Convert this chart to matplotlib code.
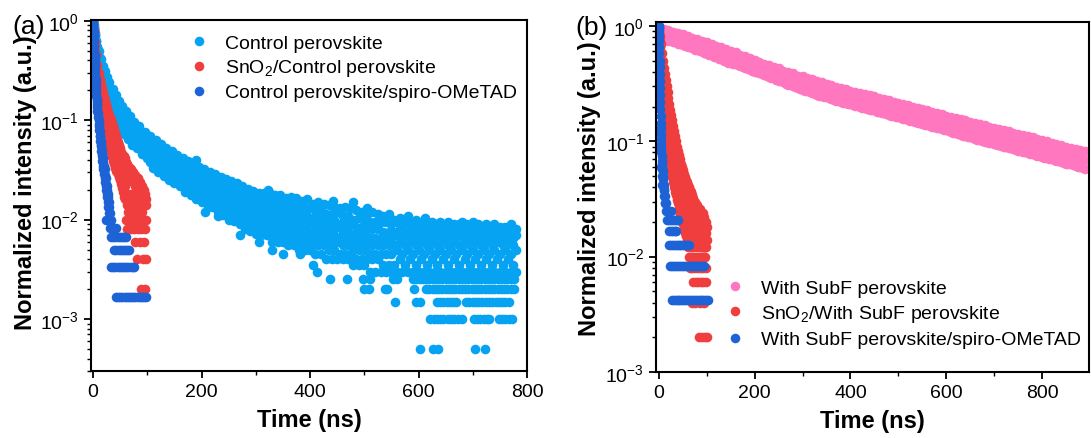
import matplotlib
matplotlib.use("Agg")
import matplotlib.pyplot as plt
from matplotlib.lines import Line2D
from matplotlib.ticker import LogLocator, MultipleLocator, NullFormatter

plt.rcParams['font.family'] = ['Liberation Sans', 'DejaVu Sans']
plt.rcParams['mathtext.fontset'] = 'custom'
plt.rcParams['mathtext.rm'] = 'Liberation Sans'
plt.rcParams['mathtext.it'] = 'Liberation Sans:italic'
plt.rcParams['mathtext.bf'] = 'Liberation Sans:bold'

labels_a = ["Control perovskite", "SnO$_2$/Control perovskite",
            "Control perovskite/spiro-OMeTAD"]
labels_b = ["With SubF perovskite", "SnO$_2$/With SubF perovskite",
            "With SubF perovskite/spiro-OMeTAD"]

# ================= Panel (a) =================
# Control perovskite (light blue): four readings per time channel
lb_t = [0, 1, 2, 3, 4, 5, 6, 7, 8, 9, 10, 12, 14, 16, 18, 20, 22, 24, 26, 28, 30,
        33, 36, 39, 42, 45, 48, 51, 54, 57, 60, 64, 68, 72, 76, 80, 85, 90, 95, 100,
        105, 110, 115, 120, 125, 130, 135, 140, 145, 150,
        155, 160, 165, 170, 175, 180, 185, 190, 195, 200,
        205, 210, 215, 220, 225, 230, 235, 240, 245, 250,
        255, 260, 265, 270, 275, 280, 285, 290, 295, 300,
        305, 310, 315, 320, 325, 330, 335, 340, 345, 350,
        355, 360, 365, 370, 375, 380, 385, 390, 395, 400,
        405, 410, 415, 420, 425, 430, 435, 440, 445, 450,
        455, 460, 465, 470, 475, 480, 485, 490, 495, 500,
        505, 510, 515, 520, 525, 530, 535, 540, 545, 550,
        555, 560, 565, 570, 575, 580, 585, 590, 595, 600,
        605, 610, 615, 620, 625, 630, 635, 640, 645, 650,
        655, 660, 665, 670, 675, 680, 685, 690, 695, 700,
        705, 710, 715, 720, 725, 730, 735, 740, 745, 750,
        755, 760, 765, 770, 775, 780]
lb_1 = [1.0, .910, .85, .751, .72, .629, .62, .548, .55, .487, .5, .418, .41, .351,
        .35, .307, .31, .269, .27, .236, .24, .203, .205, .175, .178, .153, .157,
        .136, .14, .121, .125, .108, .11, .095, .097, .085, .087, .075, .077, .067,
        .070, .0597, .063, .0543, .058, .0498, .053, .0462, .049, .0425,
        .045, .0398, .042, .0367, .039, .034, .037, .0313, .034, .0295,
        .032, .0277, .030, .026, .0285, .0248, .027, .023, .0255, .0219,
        .0245, .021, .0232, .0197, .022, .0183, .0205, .0174, .0195, .0165,
        .0185, .016, .0185, .016, .019, .015, .0175, .015, .0175, .0155,
        .0165, .014, .017, .014, .0165, .013, .0155, .013, .016, .013,
        .0145, .0125, .015, .0125, .0145, .0115, .014, .0115, .0135, .012,
        .013, .011, .0135, .011, .013, .01, .0125, .0105, .012, .01,
        .0115, .0095, .012, .0095, .0115, .0095, .011, .0095, .0115, .009,
        .01, .0095, .0105, .009, .01, .0095, .0095, .0085, .01, .009,
        .0095, .0085, .0095, .009, .0095, .0085, .009, .0095, .0085, .009,
        .0095, .0085, .009, .0085, .009, .0095, .0085, .009, .008, .009,
        .0085, .009, .008, .0085, .009, .008, .0085, .009, .008, .0085,
        .008, .0085, .008, .0085, .0075, .008]
lb_2 = [.985, .872, .797, .697, .66, .571, .558, .489, .487, .428, .436, .362, .352,
        .300, .298, .266, .268, .231, .232, .202, .206, .173, .174, .148, .151, .129,
        .132, .115, .118, .102, .106, .091, .093, .08, .082, .072, .074, .064, .066,
        .058,
        .0573, .0489, .0516, .0445, .0475, .0408, .0434, .0378, .0401, .0348,
        .0369, .0326, .0344, .0294, .0312, .0272, .0296, .0251, .0272, .0237,
        .0256, .0222, .024, .0208, .0228, .0195, .0212, .0181, .02, .0169,
        .0188, .0162, .0178, .0152, .0167, .0139, .0156, .0132, .0148, .0126,
        .014, .012, .014, .012, .014, .011, .013, .011, .013, .011,
        .012, .0105, .012, .0105, .012, .0095, .011, .0095, .011, .0095,
        .0105, .009, .0105, .009, .0105, .0085, .01, .0085, .01, .0085,
        .009, .0075, .009, .0075, .009, .007, .0085, .007, .0085, .007,
        .008, .0065, .008, .0065, .008, .0065, .0075, .0065, .0075, .0065,
        .0075, .007, .008, .0065, .0075, .007, .008, .0065, .0075, .007,
        .008, .0065, .0075, .007, .008, .0065, .0075, .007, .008, .0065,
        .0075, .007, .0075, .0065, .007, .0075, .0065, .007, .0075, .0065,
        .007, .0075, .0065, .007, .0075, .0065, .007, .0075, .0065, .007,
        .0075, .0065, .007, .0075, .0065, .007]
lb_3 = [.971, .835, .748, .647, .604, .518, .503, .437, .432, .376, .380, .313, .302,
        .257, .254, .231, .231, .198, .199, .173, .176, .148, .147, .125, .127, .109,
        .112, .097, .099, .086, .09, .077, .079, .067, .069, .061, .063, .054, .056,
        .049,
        .047, .0401, .0423, .0364, .0389, .0334, .0356, .031, .0329, .0285,
        .0302, .0267, .0282, .0235, .025, .0218, .0238, .0201, .0218, .0189,
        .0205, .0178, .0193, .0166, .0183, .0153, .0167, .0142, .0157, .013,
        .0145, .0125, .0137, .0117, .0127, .0105, .0118, .01, .0112, .0095,
        .0105, .009, .0105, .009, .0105, .008, .0095, .008, .0095, .008,
        .009, .0075, .009, .0075, .009, .007, .008, .007, .008, .007,
        .0075, .0065, .0075, .0065, .0075, .006, .007, .006, .007, .006,
        .0065, .0055, .0065, .0055, .0065, .005, .006, .005, .006, .005,
        .0055, .0045, .0055, .0045, .0055, .0045, .0055, .0045, .0055, .0045,
        .0055, .005, .006, .0045, .0055, .005, .006, .0045, .0055, .005,
        .006, .0045, .0055, .005, .006, .0045, .0055, .005, .006, .0045,
        .0055, .005, .006, .0045, .0055, .005, .006, .0045, .0055, .005,
        .006, .0045, .0055, .005, .006, .0045, .0055, .005, .006, .0045,
        .0055, .005, .006, .0045, .0055, .005]
lb_4 = [.957, .80, .702, .60, .554, .47, .453, .39, .383, .33, .332, .27, .259, .22,
        .217, .2, .199, .17, .171, .148, .151, .126, .125, .106, .108, .092, .095,
        .082, .084, .073, .076, .065, .067, .057, .059, .052, .053, .046, .048, .042,
        .0384, .0328, .0346, .0298, .0318, .0273, .0291, .0253, .0269, .0234,
        .0247, .0219, .0231, .0189, .020, .0175, .019, .0161, .0175, .0152,
        .0164, .0143, .0154, .0133, .0146, .012, .0131, .0112, .0124, .010,
        .0111, .0096, .0106, .009, .0096, .008, .009, .0076, .0085, .0072,
        .008, .007, .008, .007, .008, .006, .007, .006, .007, .006,
        .0065, .0055, .0065, .0055, .0065, .005, .006, .005, .006, .005,
        .0055, .0045, .0055, .0045, .0055, .004, .005, .004, .005, .004,
        .0045, .004, .0045, .004, .0045, .0035, .004, .0035, .004, .0035,
        .004, .003, .004, .003, .004, .003, .0035, .003, .0035, .003,
        .0035, .003, .004, .003, .0035, .003, .004, .003, .0035, .003,
        .004, .003, .0035, .003, .004, .003, .0035, .003, .004, .003,
        .0035, .003, .004, .003, .0035, .003, .004, .003, .0035, .003,
        .004, .003, .0035, .003, .004, .003, .0035, .003, .004, .003,
        .0035, .003, .004, .003, .0035, .003]
# isolated dots above / below the band
lb_out_t = [190, 323, 443, 479, 505, 581, 612, 700, 771,
            206, 231, 271, 305, 330, 351, 381, 406, 412,
            437, 468, 498, 510, 553, 560]
lb_out_v = [0.04, 0.02, 0.0155, 0.015, 0.013, 0.011, 0.0105, 0.0095, 0.009,
            0.012, 0.011, 0.007, 0.006, 0.005, 0.0045, 0.0045, 0.0035, 0.003,
            0.0025, 0.0025, 0.0025, 0.0025, 0.0025, 0.0025]
# quantised low-count rows of the tail
lb_tail_levels = [0.0025, 0.002, 0.0015, 0.001, 0.0005]
lb_tail_times = [
    [590, 596, 602, 608, 614, 620, 626, 632, 638, 644, 650, 656, 662, 668, 674, 680,
     686, 692, 698, 704, 710, 716, 722, 728, 734, 740, 746, 752, 758, 764, 770, 776],
    [500, 508, 538, 542, 592, 614, 620, 626, 632, 638, 644, 650, 656, 662, 668, 674,
     680, 686, 692, 698, 704, 710, 716, 722, 728, 734, 740, 746, 752, 758, 764, 770, 776],
    [556, 596, 602, 634, 640, 646, 652, 658, 664, 670, 688, 694, 700, 706, 712, 718,
     724, 730, 736, 742, 748, 754, 760, 766],
    [622, 628, 634, 640, 645, 654, 660, 666, 672, 680, 702, 708, 714, 720, 726, 730,
     748, 754, 760, 766, 772],
    [603, 627, 636, 704, 722]]

# SnO2/Control perovskite (red)
r_t = [0, 1, 2, 3, 4, 5, 6, 7, 8, 9, 10, 11, 12, 13, 14, 15, 16, 17, 18, 19,
       20, 21, 22, 23, 24, 25, 26, 27, 28, 29, 30, 31, 32, 33, 34, 35, 36, 37, 38, 39,
       40, 41, 42, 43, 44, 45, 46, 47, 48, 49, 50, 51, 52, 53, 54, 55, 56, 57, 58, 59,
       60, 61, 62, 63, 64, 65, 66, 67, 68, 69, 70, 71, 72, 73, 74, 75, 76, 77, 78, 79,
       80, 81, 82, 83, 84, 85, 86, 87, 88, 89, 90, 91, 92, 93, 94, 95, 96, 97, 98]
r_hi = [1.0, .823, .76, .596, .57, .452, .45, .355, .36, .288,
        .3, .242, .26, .208, .23, .185, .21, .165, .19, .147,
        .172, .133, .158, .121, .146, .111, .134, .1, .122, .092,
        .112, .084, .102, .077, .094, .07, .087, .065, .081, .06,
        .075, .055, .069, .052, .064, .048, .06, .045, .056, .042,
        .052, .038, .048, .036, .046, .034, .044, .032, .042, .030,
        0.038, 0.034, 0.036, 0.032, 0.034, 0.03, 0.034, 0.028, 0.032, 0.026,
        0.032, 0.028, 0.03, 0.024, 0.03, 0.026, 0.028, 0.022, 0.028, 0.024,
        0.026, 0.02, 0.026, 0.022, 0.024, 0.018, 0.024, 0.02, 0.022, 0.018,
        0.022, 0.016, 0.02, 0.018, 0.02, 0.016, 0.018, 0.014, 0.016]
r_lo = [.946, .72, .649, .5, .472, .37, .359, .28, .282, .22,
        .229, .18, .192, .15, .165, .13, .145, .112, .128, .098,
        .113, .087, .102, .077, .092, .069, .083, .062, .076, .056,
        .068, .051, .064, .047, .059, .043, .054, .039, .048, .036,
        .044, .033, .042, .031, .039, .029, .036, .027, .034, .025,
        .032, .023, .029, .021, .026, .019, .024, .017, .022, .016,
        0.01, 0.016, 0.014, 0.008, 0.018, 0.012, 0.016, 0.01, 0.014, 0.008,
        0.018, 0.012, 0.016, 0.01, 0.014, 0.008, 0.012, 0.016, 0.006, 0.01,
        0.014, 0.004, 0.012, 0.008, 0.016, 0.01, 0.006, 0.014, 0.002, 0.008,
        0.012, 0.004, 0.01, 0.006, 0.014, 0.002, 0.008, 0.004, 0.01]

# Control perovskite/spiro-OMeTAD (dark blue)
db_t = [0, 0, 0.5, 1, 1, 1.5, 2, 2, 2.5, 3, 3, 3.5, 4, 4, 4.5, 5, 5, 5.5, 6, 6, 6.5,
        7, 7, 8, 8, 9, 9, 10, 10, 11, 11, 12, 12, 13, 13, 14, 14, 15, 15, 16, 16,
        17, 17, 18, 18, 19, 19, 20, 20, 21, 21, 22, 22, 23, 23, 24, 24, 25, 25,
        26, 26, 27, 27, 28, 28, 29, 29, 30, 30, 31, 31]
db_v = [1.0, 0.92, 0.85, 0.78, 0.7, 0.62, 0.56, 0.5, 0.45, 0.41, 0.37, 0.34, 0.31,
        0.28, 0.26, 0.24, 0.22, 0.205, 0.19, 0.175, 0.165, 0.155, 0.145, 0.135,
        0.125, 0.118, 0.108, 0.1, 0.092, 0.088, 0.08, 0.078, 0.07, 0.07, 0.062,
        0.062, 0.055, 0.056, 0.049, 0.05, 0.044, 0.046, 0.039, 0.042, 0.035,
        0.038, 0.032, 0.035, 0.029, 0.032, 0.026, 0.028, 0.024, 0.026, 0.022,
        0.023, 0.02, 0.0217, 0.0183, 0.02, 0.0167, 0.0183, 0.015, 0.0167, 0.0133,
        0.015, 0.0117, 0.0133, 0.01, 0.0117, 0.01]
db_row_levels = [0.01, 0.00833, 0.00667, 0.005, 0.00333, 0.00167]
db_row_times = [[24, 27, 33],
                [31, 35, 39, 42],
                [33, 37, 41, 45, 49, 53, 57, 61],
                [39, 43, 47, 51, 55, 59, 63, 66],
                [33, 37, 41, 45, 49, 53, 57, 61, 65, 69, 73, 76],
                [42, 46, 50, 54, 58, 62, 66, 70, 74, 78, 82, 86, 90, 94, 98]]

# ================= Panel (b) =================
# With SubF perovskite (pink)
pk_t = [0, 5, 10, 15, 20, 25, 30, 35, 40, 45, 50,
        55, 60, 65, 70, 75, 80, 85, 90, 95, 100,
        105, 110, 115, 120, 125, 130, 135, 140, 145, 150,
        155, 160, 165, 170, 175, 180, 185, 190, 195, 200,
        205, 210, 215, 220, 225, 230, 235, 240, 245, 250,
        255, 260, 265, 270, 275, 280, 285, 290, 295, 300,
        305, 310, 315, 320, 325, 330, 335, 340, 345, 350,
        355, 360, 365, 370, 375, 380, 385, 390, 395, 400,
        405, 410, 415, 420, 425, 430, 435, 440, 445, 450,
        455, 460, 465, 470, 475, 480, 485, 490, 495, 500,
        505, 510, 515, 520, 525, 530, 535, 540, 545, 550,
        555, 560, 565, 570, 575, 580, 585, 590, 595, 600,
        605, 610, 615, 620, 625, 630, 635, 640, 645, 650,
        655, 660, 665, 670, 675, 680, 685, 690, 695, 700,
        705, 710, 715, 720, 725, 730, 735, 740, 745, 750,
        755, 760, 765, 770, 775, 780, 785, 790, 795, 800,
        805, 810, 815, 820, 825, 830, 835, 840, 845, 850,
        855, 860, 865, 870, 875, 880, 885, 890]
pk_hi = [0.97, 0.94, 0.94, 0.91, 0.92, 0.88, 0.89, 0.86, 0.87, 0.84, 0.85,
         0.82, 0.82, 0.79, 0.79, 0.76, 0.77, 0.74, 0.74, 0.72, 0.72,
         0.69, 0.70, 0.67, 0.67, 0.64, 0.65, 0.62, 0.63, 0.60, 0.61,
         0.58, 0.59, 0.56, 0.56, 0.54, 0.55, 0.52, 0.53, 0.50, 0.51,
         0.49, 0.49, 0.47, 0.47, 0.45, 0.46, 0.44, 0.44, 0.42, 0.43,
         0.41, 0.41, 0.39, 0.40, 0.38, 0.39, 0.37, 0.37, 0.355, 0.365,
         0.35, 0.354, 0.335, 0.344, 0.33, 0.334, 0.315, 0.324, 0.31, 0.315,
         0.30, 0.307, 0.29, 0.298, 0.283, 0.29, 0.275, 0.283, 0.268, 0.275,
         0.263, 0.269, 0.255, 0.262, 0.25, 0.256, 0.244, 0.251, 0.24, 0.245,
         0.233, 0.239, 0.226, 0.232, 0.221, 0.226, 0.216, 0.221, 0.21, 0.215,
         0.204, 0.21, 0.2, 0.205, 0.195, 0.2, 0.19, 0.195, 0.185, 0.19,
         0.182, 0.185, 0.176, 0.18, 0.172, 0.176, 0.167, 0.171, 0.163, 0.167,
         0.16, 0.163, 0.155, 0.159, 0.152, 0.155, 0.148, 0.152, 0.145, 0.148,
         0.141, 0.144, 0.138, 0.141, 0.134, 0.137, 0.131, 0.134, 0.128, 0.131,
         0.125, 0.128, 0.122, 0.125, 0.119, 0.122, 0.117, 0.119, 0.114, 0.116,
         0.111, 0.113, 0.108, 0.11, 0.105, 0.108, 0.103, 0.105, 0.1, 0.102,
         0.098, 0.1, 0.095, 0.097, 0.093, 0.094, 0.091, 0.092, 0.088, 0.09,
         0.086, 0.088, 0.084, 0.086, 0.082, 0.084, 0.08, 0.082]
pk_mid = [0.88, 0.87, 0.85, 0.84, 0.83, 0.81, 0.8, 0.79, 0.78, 0.77, 0.76,
          0.74, 0.74, 0.72, 0.71, 0.69, 0.69, 0.67, 0.67, 0.65, 0.64,
          0.62, 0.63, 0.6, 0.6, 0.58, 0.58, 0.56, 0.56, 0.54, 0.54,
          0.52, 0.52, 0.5, 0.5, 0.49, 0.49, 0.47, 0.47, 0.45, 0.45,
          0.44, 0.44, 0.42, 0.42, 0.41, 0.41, 0.395, 0.39, 0.38, 0.38,
          0.37, 0.365, 0.35, 0.35, 0.34, 0.34, 0.33, 0.33, 0.32, 0.32,
          0.31, 0.31, 0.3, 0.3, 0.29, 0.29, 0.28, 0.28, 0.272, 0.275,
          0.265, 0.267, 0.257, 0.259, 0.25, 0.252, 0.244, 0.245, 0.237, 0.24,
          0.233, 0.234, 0.226, 0.228, 0.221, 0.222, 0.215, 0.217, 0.211, 0.213,
          0.205, 0.206, 0.2, 0.201, 0.194, 0.195, 0.19, 0.191, 0.185, 0.187,
          0.18, 0.181, 0.176, 0.177, 0.172, 0.173, 0.167, 0.168, 0.163, 0.164,
          0.159, 0.159, 0.155, 0.155, 0.151, 0.151, 0.147, 0.147, 0.143, 0.144,
          0.14, 0.14, 0.136, 0.136, 0.132, 0.133, 0.129, 0.13, 0.126, 0.126,
          0.122, 0.123, 0.119, 0.12, 0.116, 0.116, 0.113, 0.114, 0.111, 0.111,
          0.108, 0.108, 0.105, 0.106, 0.103, 0.104, 0.101, 0.101, 0.098, 0.098,
          0.095, 0.096, 0.093, 0.093, 0.09, 0.091, 0.088, 0.089, 0.086, 0.086,
          0.084, 0.084, 0.082, 0.082, 0.08, 0.08, 0.078, 0.078, 0.076, 0.076,
          0.074, 0.074, 0.072, 0.072, 0.07, 0.071, 0.069, 0.069]
pk_lo = [0.8, 0.8, 0.77, 0.77, 0.74, 0.75, 0.72, 0.72, 0.7, 0.7, 0.68,
         0.67, 0.66, 0.65, 0.64, 0.62, 0.62, 0.6, 0.6, 0.58, 0.57,
         0.56, 0.56, 0.54, 0.54, 0.52, 0.52, 0.5, 0.5, 0.48, 0.48,
         0.47, 0.465, 0.455, 0.45, 0.44, 0.435, 0.425, 0.42, 0.41, 0.4,
         0.395, 0.39, 0.38, 0.375, 0.37, 0.36, 0.355, 0.35, 0.34, 0.335,
         0.33, 0.325, 0.315, 0.31, 0.305, 0.3, 0.295, 0.29, 0.285, 0.28,
         0.275, 0.272, 0.266, 0.262, 0.256, 0.254, 0.248, 0.245, 0.24, 0.24,
         0.235, 0.232, 0.228, 0.225, 0.222, 0.219, 0.216, 0.213, 0.21, 0.21,
         0.207, 0.204, 0.201, 0.199, 0.196, 0.193, 0.19, 0.188, 0.186, 0.185,
         0.181, 0.178, 0.176, 0.174, 0.171, 0.169, 0.167, 0.165, 0.163, 0.162,
         0.159, 0.157, 0.155, 0.153, 0.151, 0.149, 0.147, 0.145, 0.143, 0.142,
         0.139, 0.137, 0.136, 0.134, 0.132, 0.13, 0.129, 0.127, 0.126, 0.124,
         0.122, 0.12, 0.119, 0.117, 0.115, 0.114, 0.112, 0.111, 0.109, 0.108,
         0.106, 0.105, 0.103, 0.102, 0.101, 0.099, 0.098, 0.097, 0.096, 0.095,
         0.093, 0.092, 0.091, 0.09, 0.089, 0.088, 0.087, 0.086, 0.084, 0.083,
         0.082, 0.081, 0.08, 0.079, 0.078, 0.077, 0.076, 0.075, 0.074, 0.073,
         0.072, 0.071, 0.07, 0.07, 0.069, 0.068, 0.067, 0.066, 0.065, 0.064,
         0.063, 0.063, 0.062, 0.061, 0.06, 0.06, 0.059, 0.058]

# SnO2/With SubF perovskite (red): three readings per time channel
r2_t = [0, 1, 2, 3, 4, 5, 6, 7, 8, 9, 10, 11, 12, 13, 14, 15, 16, 17, 18, 19,
        20, 21, 22, 23, 24, 25, 26, 27, 28, 29, 30, 31, 32, 33, 34, 35, 36, 37, 38, 39,
        40, 41, 42, 43, 44, 45, 46, 47, 48, 49, 50, 51, 52, 53, 54, 55, 56, 57, 58, 59,
        60, 61, 62, 63, 64, 65, 66, 67, 68, 69, 70, 71, 72, 73, 74, 75, 76, 77, 78, 79,
        80, 81, 82, 83, 84, 85, 86, 87, 88, 89, 90, 91, 92, 93, 94, 95, 96, 97, 98, 99, 100]
r2_a = [1.0, .868, .82, .697, .69, .569, .58, .477, .5, .40,
        .43, .339, .38, .30, .34, .263, .30, .228, .265, .202,
        .235, .176, .21, .157, .187, .14, .168, .126, .152, .114,
        .136, .102, .122, .092, .11, .084, .1, .076, .09, .069,
        .082, .064, .076, .059, .07, .054, .064, .05, .06, .047,
        .056, .044, .052, .041, .049, .038, .046, .036, .044, .034,
        .042,
        .038, .04, .036, .038, .034, .036, .032, .036, .03, .034,
        .028, .032, .026, .03, .024, .03, .022, .028, .02, .028,
        .018, .026, .02, .024, .018, .026, .016, .024, .02, .022,
        .016, .024, .018, .022, .014, .02, .016, .02, .014, .018]
r2_b = [.967, .807, .733, .602, .577, .465, .463, .372, .379, .297,
        .313, .244, .269, .209, .231, .178, .201, .151, .174, .131,
        .151, .113, .133, .099, .117, .088, .105, .078, .094, .071,
        .085, .064, .076, .057, .07, .053, .063, .049, .058, .045,
        .053, .041, .049, .038, .046, .035, .042, .033, .039, .031,
        .036, .029, .034, .027, .032, .025, .03, .023, .028, .021,
        .027,
        .028, .024, .03, .022, .026, .02, .028, .018, .024, .022,
        .018, .026, .016, .022, .02, .024, .014, .02, .018, .022,
        .014, .018, .016, .02, .014, .018, .016, .012, .018, .014,
        .016, .012, .014, .016, .012, .014, .012, .016, .012, .014]
r2_c = [.935, .75, .656, .52, .482, .38, .37, .29, .287, .22,
        .228, .175, .19, .145, .157, .12, .134, .10, .114, .085,
        .097, .072, .084, .062, .073, .055, .066, .049, .058, .044,
        .053, .04, .048, .036, .044, .034, .04, .031, .037, .029,
        .035, .027, .032, .025, .03, .023, .027, .022, .026, .02,
        .024, .019, .022, .018, .021, .016, .02, .015, .019, .014,
        .018,
        .012, .016, .01, .008, .014, .012, .01, .016, .008, .004,
        .006, .012, .01, .014, .008, .004, .006, .012, .01, .016,
        .008, .006, .002, .012, .01, .004, .008, .006, .014, .002,
        .01, .008, .006, .012, .004, .002, .01, .008, .006, .002]

# With SubF perovskite/spiro-OMeTAD (dark blue)
bb_t = [0, 0, 0, 0.5, 0.5, 1, 1, 1.5, 1.5, 2, 2, 2.5, 2.5, 3, 3, 3.5, 3.5, 4, 4,
        4.5, 4.5, 5, 5, 6, 6, 7, 7, 8, 8, 9, 9, 10, 10, 11, 11, 12, 12, 13, 14,
        1, 2, 3, 5, 6, 7]
bb_v = [1.0, 0.95, 0.9, 0.82, 0.74, 0.66, 0.58, 0.5, 0.44, 0.38, 0.33, 0.29, 0.25,
        0.22, 0.19, 0.165, 0.145, 0.13, 0.115, 0.105, 0.095, 0.088, 0.08, 0.075,
        0.068, 0.064, 0.058, 0.055, 0.05, 0.047, 0.043, 0.042, 0.0375, 0.0375,
        0.0333, 0.0333, 0.0292, 0.0292, 0.0292,
        0.2, 0.12, 0.09, 0.06, 0.05, 0.042]
bb_row_levels = [0.025, 0.0208, 0.0167, 0.0125, 0.00833, 0.00417]
bb_row_times = [[14, 18, 22, 25],
                [17, 21, 25, 29, 33, 37, 39],
                [21, 25, 29, 33, 35],
                [21, 25, 29, 33, 37, 41, 45, 49, 53, 57, 61, 63],
                [24, 28, 32, 36, 40, 44, 48, 52, 56, 60, 64, 68, 72, 76, 80, 84,
                 88, 92, 94],
                [27, 31, 35, 39, 43, 47, 51, 55, 59, 63, 67, 71, 75, 79, 83, 87,
                 91, 95, 99, 102]]

# ================= Styling =================
C_LB = '#05A3F2'
C_RED = '#F03D3D'
C_DB = '#1E63D6'
C_PK = '#FF78BF'
S = 48

fig = plt.figure(figsize=(10.91, 4.39), dpi=100)
axA = fig.add_axes([0.0834, 0.1526, 0.3996, 0.7996])
axB = fig.add_axes([0.6013, 0.1503, 0.3969, 0.7973])


def dots(ax, t, v, c):
    ax.scatter(t, v, s=S, c=c, linewidths=0, marker='o')


def rows(ax, levels, times, c):
    for lev, ts in zip(levels, times):
        ax.scatter(ts, [lev] * len(ts), s=S, c=c, linewidths=0, marker='o')


# panel (a)
for arr in (lb_1, lb_2, lb_3, lb_4):
    dots(axA, lb_t, arr, C_LB)
dots(axA, lb_out_t, lb_out_v, C_LB)
rows(axA, lb_tail_levels, lb_tail_times, C_LB)
dots(axA, r_t, r_hi, C_RED)
dots(axA, r_t, r_lo, C_RED)
dots(axA, db_t, db_v, C_DB)
rows(axA, db_row_levels, db_row_times, C_DB)

# panel (b)
for arr in (pk_hi, pk_mid, pk_lo):
    dots(axB, pk_t, arr, C_PK)
for arr in (r2_a, r2_b, r2_c):
    dots(axB, r2_t, arr, C_RED)
dots(axB, bb_t, bb_v, C_DB)
rows(axB, bb_row_levels, bb_row_times, C_DB)

axA.set_xlim(-4, 800)
axA.set_ylim(3e-4, 1.02)
axB.set_xlim(-6, 898)
axB.set_ylim(1e-3, 1.08)

for ax in (axA, axB):
    ax.set_yscale('log')
    ax.xaxis.set_major_locator(MultipleLocator(200))
    ax.xaxis.set_minor_locator(MultipleLocator(100))
    ax.yaxis.set_major_locator(LogLocator(base=10))
    ax.yaxis.set_minor_locator(LogLocator(base=10, subs=(2, 3, 4, 5, 6, 7, 8, 9)))
    ax.yaxis.set_minor_formatter(NullFormatter())
    ax.tick_params(which='major', direction='out', length=5, width=1.3,
                   labelsize=14, top=False, right=False)
    ax.tick_params(which='minor', direction='out', length=3, width=1.0)
    for sp in ax.spines.values():
        sp.set_linewidth(1.5)
    ax.set_xlabel('Time (ns)', fontsize=17, fontweight='bold', labelpad=6)
    ax.set_ylabel('Normalized intensity (a.u.)', fontsize=17, fontweight='bold')

axA.yaxis.set_label_coords(-0.124, 0.538)
axB.yaxis.set_label_coords(-0.127, 0.526)

hA = [Line2D([], [], ls='none', marker='o', ms=6.9, mfc=c, mec='none')
      for c in (C_LB, C_RED, C_DB)]
hB = [Line2D([], [], ls='none', marker='o', ms=6.9, mfc=c, mec='none')
      for c in (C_PK, C_RED, C_DB)]
axA.legend(hA, labels_a, loc='upper left', bbox_to_anchor=(0.2254, 0.959),
           frameon=False, fontsize=14, handlelength=1.0, handletextpad=0.85,
           labelspacing=0.28, borderpad=0, borderaxespad=0)
axB.legend(hB, labels_b, loc='upper left', bbox_to_anchor=(0.160, 0.265),
           frameon=False, fontsize=14, handlelength=1.0, handletextpad=0.85,
           labelspacing=0.33, borderpad=0, borderaxespad=0)

fig.text(12 / 1091, 1 - 27 / 439, '(a)', fontsize=19, va='center', ha='left')
fig.text(575 / 1091, 1 - 28 / 439, '(b)', fontsize=19, va='center', ha='left')

fig.savefig('out.png', dpi=100)
